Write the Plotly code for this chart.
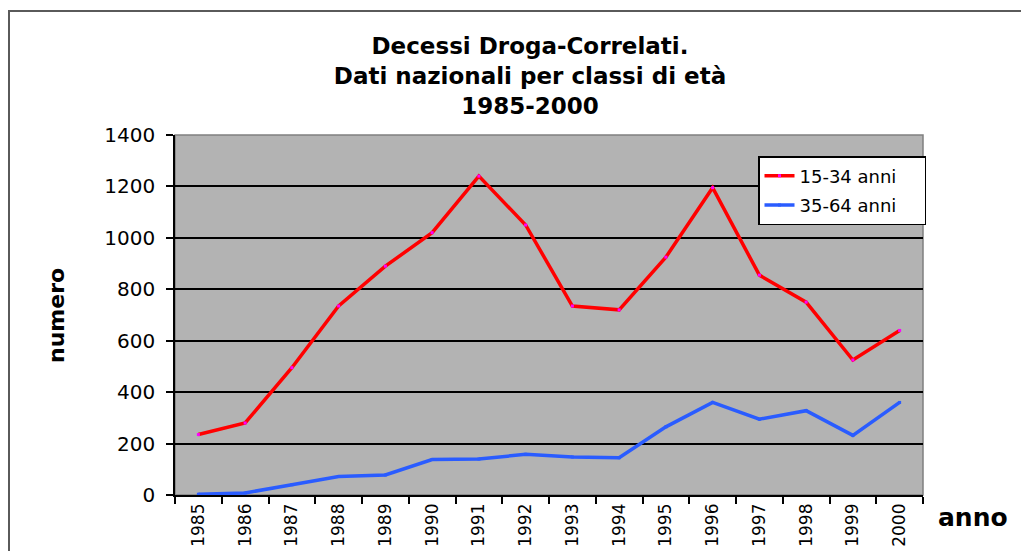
import plotly.graph_objects as go

years = ["1985", "1986", "1987", "1988", "1989", "1990", "1991", "1992",
         "1993", "1994", "1995", "1996", "1997", "1998", "1999", "2000"]
age_15_34 = [235, 280, 495, 735, 890, 1020, 1240, 1050,
             735, 720, 925, 1195, 855, 750, 525, 640]
age_35_64 = [3, 8, 40, 72, 78, 138, 140, 158,
             148, 145, 265, 360, 295, 328, 232, 360]
y_ticks = [0, 200, 400, 600, 800, 1000, 1200, 1400]

OFF = 8  # page body margin
W, H = 1029 - OFF, 551 - OFF
# plot area in page pixels
L, R, T, B = 175, 923, 135, 495


def px(x):
    return (x - L) / (R - L)


def py(y):
    return (B - y) / (B - T)


PAD = "\u00a0" * 4

fig = go.Figure()
fig.add_trace(go.Scatter(
    x=years, y=age_15_34, name="15-34 anni" + PAD, mode="lines+markers",
    legendgroup="a",
    line=dict(color="#ff0000", width=3.5),
    marker=dict(color="#ff00ff", size=3, symbol="square")))
fig.add_trace(go.Scatter(
    x=years, y=age_35_64, name="35-64 anni" + PAD, mode="lines+markers",
    legendgroup="b",
    line=dict(color="#2a5cff", width=3.5),
    marker=dict(color="#2a5cff", size=3, symbol="square")))

fig.update_layout(
    width=W, height=H,
    margin=dict(l=L - OFF, r=W - (R - OFF), t=T - OFF, b=H - (B - OFF), autoexpand=False),
    paper_bgcolor="white",
    plot_bgcolor="#b3b3b3",
    font=dict(family="DejaVu Sans", color="black"),
    title=dict(
        text="Decessi Droga-Correlati.<br>Dati nazionali per classi di età<br>1985-2000",
        x=px(530), xanchor="center", xref="paper",
        y=1 - (54 - OFF) / H, yanchor="top",
        font=dict(family="DejaVu Sans", size=23, color="black", weight="bold")),
    showlegend=True,
    legend=dict(
        x=px(758), y=py(156), xanchor="left", yanchor="top",
        bgcolor="white", bordercolor="black", borderwidth=1.5,
        font=dict(family="DejaVu Sans", size=18, color="black"),
        tracegroupgap=3),
)

fig.update_xaxes(
    type="category", categoryorder="array", categoryarray=years,
    range=[-0.5, len(years) - 0.5], autorange=False,
    showline=True, linecolor="black", linewidth=1.5,
    ticks="outside", ticklen=7, tickcolor="black", tickwidth=1.5,
    tickson="boundaries", tickangle=-90,
    tickfont=dict(family="DejaVu Sans", size=17, color="black"),
    showgrid=False, zeroline=False)

fig.update_yaxes(
    range=[0, 1400], tickvals=y_ticks,
    showline=True, linecolor="black", linewidth=1.5,
    ticks="outside", ticklen=7, tickcolor="black", tickwidth=1.5,
    ticklabelstandoff=7,
    tickfont=dict(family="DejaVu Sans", size=20, color="black"),
    showgrid=True, gridcolor="black", gridwidth=1.5,
    zeroline=False)

# plot area border (grey) and outer chart frame
fig.add_shape(type="rect", xref="paper", yref="paper", x0=0, x1=1, y0=0, y1=1,
              line=dict(color="#808080", width=1.5), layer="below")
fig.add_shape(type="rect", xref="paper", yref="paper",
              x0=px(9), x1=px(1045), y0=py(575), y1=py(11),
              line=dict(color="#5a5a5a", width=2))

fig.add_annotation(text="<b>numero</b>", textangle=-90, xref="paper", yref="paper",
                   x=px(56), y=py(316), xanchor="center", yanchor="middle",
                   showarrow=False,
                   font=dict(family="DejaVu Sans", size=22, color="black"))
fig.add_annotation(text="<b>anno</b>", xref="paper", yref="paper",
                   x=px(973), y=py(517), xanchor="center", yanchor="middle",
                   showarrow=False,
                   font=dict(family="DejaVu Sans", size=25, color="black"))

fig.write_html("out.html")
